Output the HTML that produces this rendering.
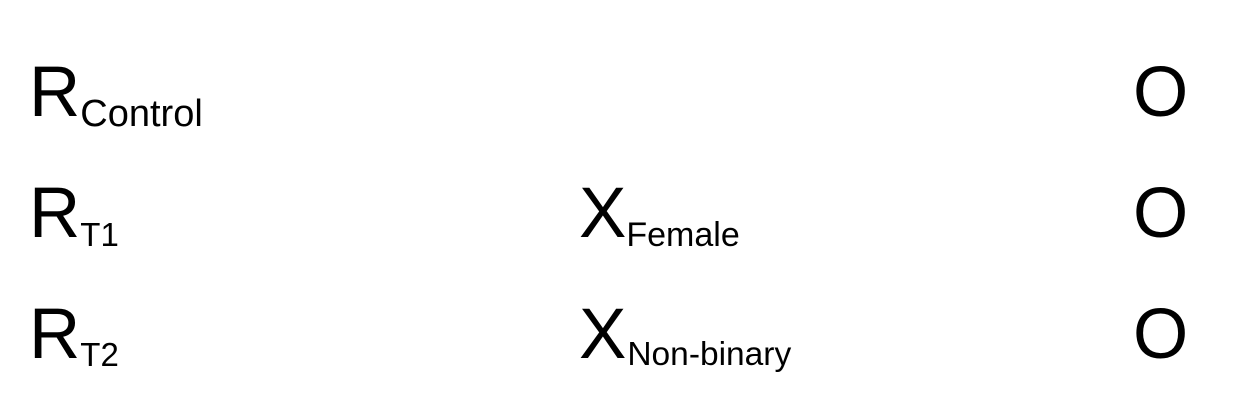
<!DOCTYPE html>
<html>
<head>
<meta charset="utf-8">
<style>
html,body{margin:0;padding:0;background:#fff;width:1246px;height:418px;overflow:hidden}
svg{display:block}
text{font-family:"Liberation Sans",Arial,sans-serif;fill:#000}
.big{font-size:71px}
</style>
</head>
<body>
<svg width="1246" height="418" viewBox="0 0 1246 418">
  <g>
    <text x="29" y="116" class="big">R<tspan font-size="38" dy="10" dx="0">Control</tspan></text>
    <text x="1133" y="116" class="big">O</text>
  </g>
  <g>
    <text x="29" y="237" class="big">R<tspan font-size="33" dy="9" dx="0">T1</tspan></text>
    <text x="579" y="237" class="big">X<tspan font-size="34" dy="9" dx="0">Female</tspan></text>
    <text x="1133" y="237" class="big">O</text>
  </g>
  <g>
    <text x="29" y="358" class="big">R<tspan font-size="33" dy="8" dx="0">T2</tspan></text>
    <text x="579" y="358" class="big">X<tspan font-size="33.5" dy="7" dx="1">Non-binary</tspan></text>
    <text x="1133" y="358" class="big">O</text>
  </g>
</svg>
</body>
</html>
